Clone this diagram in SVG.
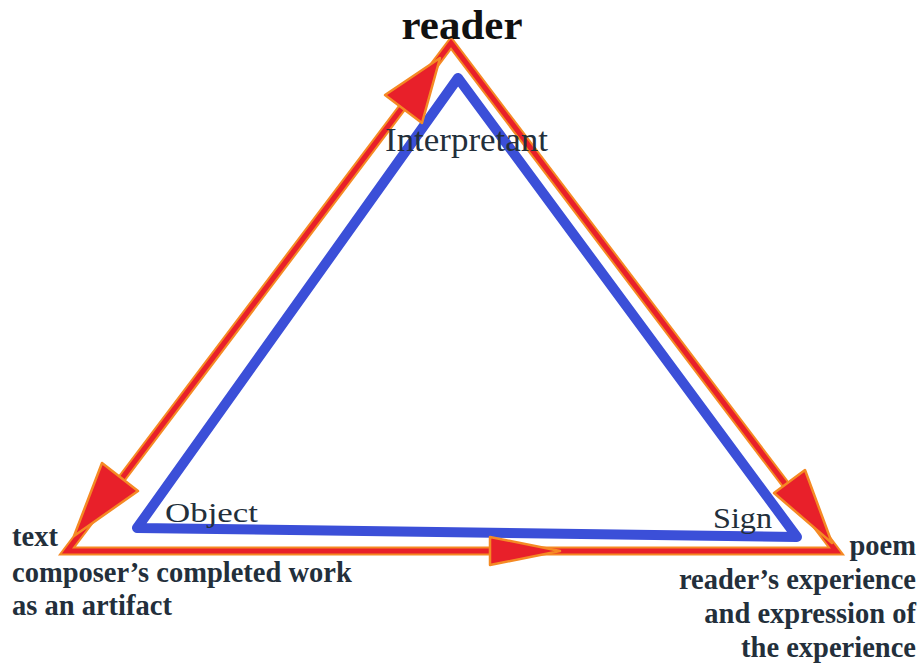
<svg xmlns="http://www.w3.org/2000/svg" width="922" height="664" viewBox="0 0 922 664">
<style>
.lbl{font-family:"Liberation Serif","Times New Roman",serif;fill:#232f3b}
.b{font-weight:bold;font-size:28.5px}
.r{text-anchor:end}
.outer{fill:none;stroke:#f58a24;stroke-width:9;stroke-linejoin:miter}
.inner{fill:none;stroke:#e8202a;stroke-width:5;stroke-linejoin:miter}
.head{fill:#e8202a;stroke:#f58a24;stroke-width:2.5;stroke-linejoin:round}
.blue{fill:none;stroke:#3b4fd8;stroke-width:10;stroke-linejoin:round;stroke-linecap:round}
</style>
<rect width="922" height="664" fill="#ffffff"/>
<g id="connectors">
  <polygon class="blue" points="458,78 137,528 797,537"/>
  <polygon class="outer" points="451,43 67,551 836,551"/>
  <polygon class="inner" points="451,43 67,551 836,551"/>
  <polygon class="head" points="440,58 422,123 385,95"/>
  <polygon class="head" points="74,536 102,463 138,491"/>
  <polygon class="head" points="832,543 774,493 805,470"/>
  <polygon class="head" points="560,551 490,537 490,565"/>
</g>
<g id="reader"><text class="lbl" x="462" y="39" text-anchor="middle" font-size="43" font-weight="bold" style="fill:#111">reader</text></g>
<g id="interpretant"><text class="lbl" x="385" y="151" font-size="33" textLength="163" lengthAdjust="spacingAndGlyphs">Interpretant</text></g>
<g id="object"><text class="lbl" x="165" y="522" font-size="28" textLength="93" lengthAdjust="spacingAndGlyphs">Object</text></g>
<g id="sign"><text class="lbl" x="713" y="528" font-size="30" textLength="59" lengthAdjust="spacingAndGlyphs">Sign</text></g>
<g id="text">
  <text class="lbl b" x="12" y="546">text</text>
  <text class="lbl b" x="12" y="582">composer’s completed work</text>
  <text class="lbl b" x="12" y="615">as an artifact</text>
</g>
<g id="poem">
  <text class="lbl b r" x="916" y="555">poem</text>
  <text class="lbl b r" x="916" y="589">reader’s experience</text>
  <text class="lbl b r" x="916" y="623">and expression of</text>
  <text class="lbl b r" x="916" y="657">the experience</text>
</g>
</svg>
